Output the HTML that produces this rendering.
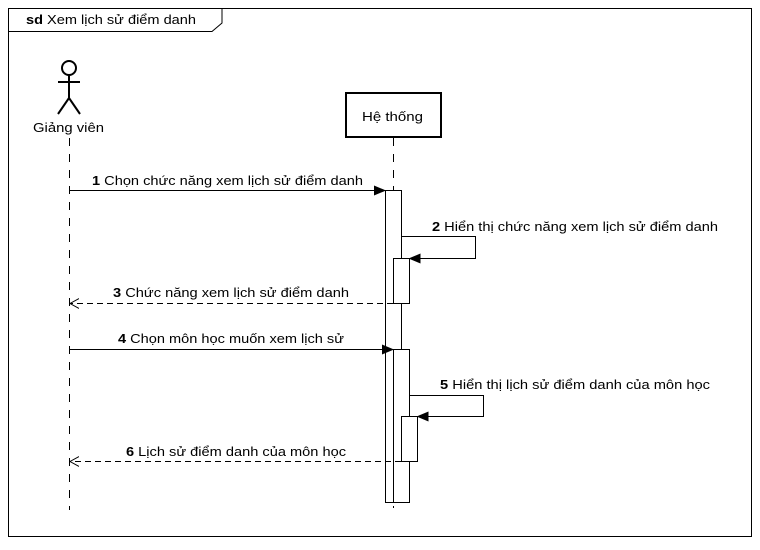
<!DOCTYPE html>
<html><head><meta charset="utf-8"><style>
html,body{margin:0;padding:0;background:#fff}
svg text{font-family:"Liberation Sans",Arial,sans-serif;font-size:13px;fill:#000}
</style></head><body>
<svg width="760" height="545" viewBox="0 0 760 545" xmlns="http://www.w3.org/2000/svg">
<defs>
<marker id="a" markerWidth="12" markerHeight="12" refX="11" refY="6" orient="auto" markerUnits="userSpaceOnUse"><path d="M0,1 L12,6 L0,11 z" fill="#000"/></marker>
<marker id="o" markerWidth="10" markerHeight="12" refX="9" refY="6" orient="auto" markerUnits="userSpaceOnUse"><path d="M0,1 L9,6 L0,11" fill="none" stroke="#000"/></marker>
</defs>
<rect x="8.5" y="8.5" width="743" height="528" fill="none" stroke="#000"/>
<path d="M8.5,31.5 H212 L222,23 V8.5" fill="none" stroke="#000"/>
<text x="26" y="24" textLength="170" lengthAdjust="spacingAndGlyphs"><tspan font-weight="bold">sd</tspan> Xem lịch sử điểm danh</text>
<g stroke="#000" stroke-width="2" fill="none">
<circle cx="69" cy="68" r="7"/>
<line x1="69" y1="75" x2="69" y2="98"/>
<line x1="58" y1="82" x2="80" y2="82"/>
<line x1="69" y1="98" x2="58" y2="114"/>
<line x1="69" y1="98" x2="80" y2="114"/>
</g>
<text x="33" y="132" textLength="71" lengthAdjust="spacingAndGlyphs">Giảng viên</text>
<line x1="69.5" y1="138" x2="69.5" y2="510" stroke="#000" stroke-dasharray="8,8"/>
<rect x="346" y="93" width="95" height="44" fill="#fff" stroke="#000" stroke-width="2"/>
<text x="362" y="121" textLength="61" lengthAdjust="spacingAndGlyphs">Hệ thống</text>
<line x1="393.5" y1="138" x2="393.5" y2="508" stroke="#000" stroke-dasharray="8,8"/>
<rect x="385.5" y="190.5" width="16" height="312" fill="#fff" stroke="#000"/>
<rect x="393.5" y="258.5" width="16" height="45" fill="#fff" stroke="#000"/>
<rect x="393.5" y="349.5" width="16" height="153" fill="#fff" stroke="#000"/>
<rect x="401.5" y="416.5" width="16" height="45" fill="#fff" stroke="#000"/>
<line x1="69" y1="190.5" x2="385" y2="190.5" stroke="#000" marker-end="url(#a)"/>
<text x="92" y="185" textLength="271" lengthAdjust="spacingAndGlyphs"><tspan font-weight="bold">1</tspan> Chọn chức năng xem lịch sử điểm danh</text>
<path d="M401.5,236.5 H475.5 V258.5 H409.5" fill="none" stroke="#000" marker-end="url(#a)"/>
<text x="432" y="231" textLength="286" lengthAdjust="spacingAndGlyphs"><tspan font-weight="bold">2</tspan> Hiển thị chức năng xem lịch sử điểm danh</text>
<line x1="393" y1="303.5" x2="70" y2="303.5" stroke="#000" stroke-dasharray="6,4" marker-end="url(#o)"/>
<text x="113" y="297" textLength="236" lengthAdjust="spacingAndGlyphs"><tspan font-weight="bold">3</tspan> Chức năng xem lịch sử điểm danh</text>
<line x1="69" y1="349.5" x2="393" y2="349.5" stroke="#000" marker-end="url(#a)"/>
<text x="118" y="343" textLength="226" lengthAdjust="spacingAndGlyphs"><tspan font-weight="bold">4</tspan> Chọn môn học muốn xem lịch sử</text>
<path d="M409.5,395.5 H483.5 V416.5 H417.5" fill="none" stroke="#000" marker-end="url(#a)"/>
<text x="440" y="389" textLength="270" lengthAdjust="spacingAndGlyphs"><tspan font-weight="bold">5</tspan> Hiển thị lịch sử điểm danh của môn học</text>
<line x1="401" y1="461.5" x2="70" y2="461.5" stroke="#000" stroke-dasharray="6,4" marker-end="url(#o)"/>
<text x="126" y="456" textLength="220" lengthAdjust="spacingAndGlyphs"><tspan font-weight="bold">6</tspan> Lịch sử điểm danh của môn học</text>
</svg>
</body></html>
